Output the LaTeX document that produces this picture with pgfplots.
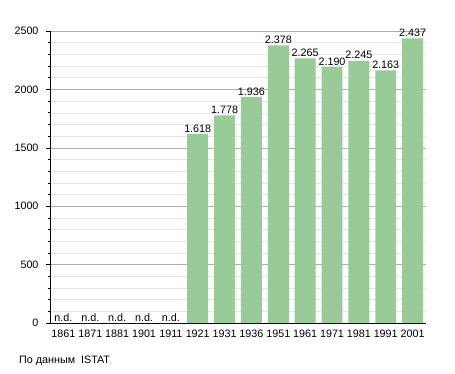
\documentclass[border=0pt]{standalone}
\usepackage{pgfplots}
\pgfplotsset{compat=1.18}
\usepackage{fontspec}
\setmainfont{Liberation Sans}
\definecolor{barg}{RGB}{152,203,152}
\begin{document}
\begin{tikzpicture}[x=1bp,y=1bp]
\path[use as bounding box] (0,0) rectangle (455,-373);
\begin{axis}[
  at={(50bp,-323bp)}, anchor=south west,
  scale only axis, width=376bp, height=292bp,
  xmin=-0.5, xmax=13.5, ymin=0, ymax=2500,
  axis x line*=bottom, axis y line*=left,
  axis line style={black, line width=0.8pt},
  xtick={0,...,13},
  xticklabels={1861,1871,1881,1901,1911,1921,1931,1936,1951,1961,1971,1981,1991,2001},
  x tick style={draw=none},
  ytick={0,500,...,2500},
  minor y tick num=4,
  tick align=outside,
  major tick length=4bp, minor tick length=2.5bp,
  y tick style={black, line width=0.6pt},
  ymajorgrids, yminorgrids,
  major grid style={gray!65, line width=0.6pt},
  minor grid style={gray!20, line width=0.5pt},
  tick label style={font=\fontsize{10.8}{12}\selectfont},
  /pgf/number format/assume math mode=true,
  /pgf/number format/.cd, 1000 sep={}, /pgfplots/.cd,
  xticklabel style={yshift=1bp},
  yticklabel style={xshift=-4bp},
  clip=false,
]
\addplot[ybar, bar width=0.78, fill=barg, draw=none,
  nodes near coords,
  point meta=explicit symbolic,
  every node near coord/.append style={font=\fontsize{10.8}{12}\selectfont, black, inner sep=1.5bp},
] table[meta=lab] {
x y lab
0 0 n.d.
1 0 n.d.
2 0 n.d.
3 0 n.d.
4 0 n.d.
5 1618 1.618
6 1778 1.778
7 1936 1.936
8 2378 2.378
9 2265 2.265
10 2190 2.190
11 2245 2.245
12 2163 2.163
13 2437 2.437
};
\end{axis}
\node[anchor=west, font=\fontsize{10.8}{12}\selectfont, inner sep=0] at (19,-361) {По данным\ \ ISTAT};
\end{tikzpicture}
\end{document}
